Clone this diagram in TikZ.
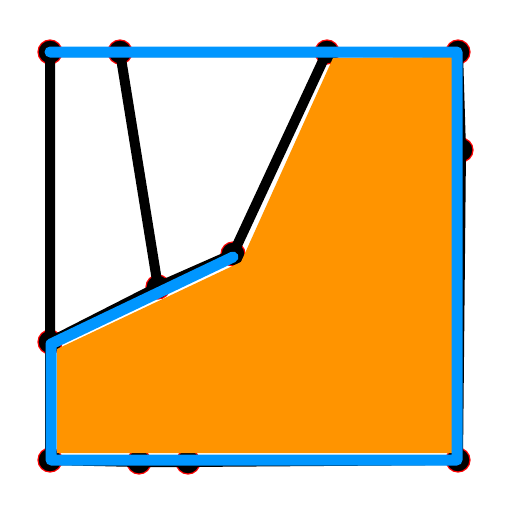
\documentclass[tikz,border=0pt]{standalone}
\usepackage{tikz}
\usetikzlibrary{positioning}
\usepackage{xcolor}
\definecolor{faceorange}{RGB}{255,148,0}
\definecolor{rimblue}{RGB}{0,150,255}

\begin{document}
\begin{tikzpicture}[
    x=1pt, y=-1pt,
    vertex/.style={
        circle,
        fill=black,
        draw=red,
        line width=1.2pt,
        inner sep=0pt,
        minimum size=24pt
    },
    edge/.style={line width=10pt, line cap=round, line join=round},
    face/.style={fill=faceorange},
    rim/.style={draw=rimblue, line width=11pt, line cap=round, line join=round}
]
\useasboundingbox (0,0) rectangle (512,512);

% Vertices
\node[vertex] (v1) at (50,52) {};
\node[vertex] (v2) at (120,52) {};
\node[vertex] (v3) at (327,52) {};
\node[vertex] (v4) at (458,52) {};
\node[vertex] (v5) at (461,150) {};
\node[vertex] (v6) at (458,460) {};
\node[vertex] (v7) at (188,462) {};
\node[vertex] (v8) at (139,462) {};
\node[vertex] (v9) at (50,460) {};
\node[vertex] (v10) at (50,342) {};
\node[vertex] (v11) at (158,287) {};
\node[vertex] (v12) at (233,254) {};

% Edges
\draw[edge] (v1.center) -- (v2.center) -- (v3.center) -- (v4.center)
    -- (v5.center) -- (v6.center) -- (v7.center) -- (v8.center)
    -- (v9.center) -- (v10.center) -- (v1.center);
\draw[edge] (v2.center) -- (v11.center);
\draw[edge] (v10.center) -- (v11.center) -- (v12.center) -- (v3.center);

% Selected face
\fill[face] (57,349) -- (241,262) -- (333,58) -- (452,57)
    -- (452,453) -- (57,453) -- cycle;

% Face boundary
\draw[rim] ([yshift=-3pt]v12.center) -- ([shift={(1pt,-2pt)}]v10.center)
    -- ([xshift=1pt]v9.center) -- ([xshift=-1pt]v6.center)
    -- ([xshift=-1pt]v4.center) -- (v1.center);

\end{tikzpicture}
\end{document}
